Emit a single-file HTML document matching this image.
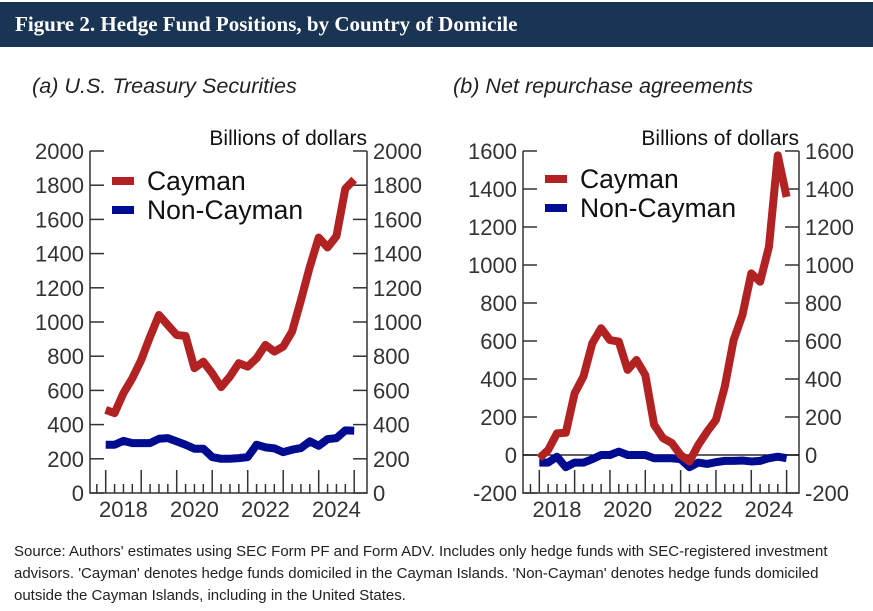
<!DOCTYPE html>
<html><head><meta charset="utf-8"><style>
body{margin:0;background:#fff;width:873px;height:611px;overflow:hidden;font-family:"Liberation Sans",sans-serif}
#hdr{position:absolute;left:0;top:2px;width:873px;height:45px;background:#1a3553;color:#fff;font-family:"Liberation Serif",serif;font-size:21px;font-weight:bold;line-height:45px;padding-left:15px;box-sizing:border-box}
#src{position:absolute;left:14px;top:541px;width:855px;font-size:15px;line-height:22px;color:#222}
svg{position:absolute;left:0;top:0}
</style></head><body>
<div id="hdr">Figure 2. Hedge Fund Positions, by Country of Domicile</div>
<svg id="chart" width="873" height="611"></svg>
<div id="src">Source: Authors' estimates using SEC Form PF and Form ADV. Includes only hedge funds with SEC-registered investment advisors. 'Cayman' denotes hedge funds domiciled in the Cayman Islands. 'Non-Cayman' denotes hedge funds domiciled outside the Cayman Islands, including in the United States.</div>
<script>
const yearLabels=["2018","2020","2022","2024"];
const tsCayman=[486,467,584,671,778,914,1041,982,924,918,730,768,700,619,681,759,739,788,866,827,856,944,1128,1323,1494,1436,1502,1780,1833];
const tsNonCayman=[282,282,305,292,292,292,317,321,302,282,259,259,210,200,200,204,210,282,267,261,239,253,263,302,276,315,321,366,364];
const repoCayman=[-17,26,114,117,325,413,588,667,605,597,448,500,421,159,89,63,0,-34,53,123,185,360,605,737,956,912,1096,1577,1358];
const repoNonCayman=[-40,-40,-9,-64,-40,-40,-22,0,0,18,0,0,0,-17,-17,-17,-22,-64,-40,-47,-38,-31,-31,-29,-34,-31,-17,-9,-17];
const tsTicks=[0,200,400,600,800,1000,1200,1400,1600,1800,2000];
const repoTicks=[-200,0,200,400,600,800,1000,1200,1400,1600];

const NS="http://www.w3.org/2000/svg";
const svg=document.getElementById('chart');
function mk(tag,attrs,parent){const e=document.createElementNS(NS,tag);for(const k in attrs)e.setAttribute(k,attrs[k]);(parent||svg).appendChild(e);return e;}

function panel(cfg){
  const g=mk('g',{});
  
  
  const {L,R,T,B,min,max,x0,yr}=cfg;
  const y=v=>B-(v-min)/(max-min)*(B-T);
  const x=i=>x0+i*yr/4;
  const t=mk('text',{x:cfg.titleX,y:93,'font-size':21.6,'font-style':'italic',fill:'#222'},g);t.textContent=cfg.title;
  
  const u=mk('text',{x:R,y:145,'font-size':21,'text-anchor':'end',fill:'#111'},g);u.textContent="Billions of dollars";
  
  mk('path',{d:`M${L},${T}V${B}H${R}V${T}`,stroke:'#333','stroke-width':1.5,fill:'none'},g);
  cfg.ticks.forEach(v=>{
    const yy=y(v);
    mk('line',{x1:L,x2:L+14,y1:yy,y2:yy,stroke:'#333','stroke-width':1.5},g);
    mk('line',{x1:R-14,x2:R,y1:yy,y2:yy,stroke:'#333','stroke-width':1.5},g);
    const a=mk('text',{x:L-6,y:yy+8,'font-size':22,'text-anchor':'end',fill:'#333'},g);a.textContent=v;
    
    const b=mk('text',{x:R+6,y:yy+8,'font-size':22,fill:'#333'},g);b.textContent=v;
    
  });
  if(min<0) mk('line',{x1:L,x2:R,y1:y(0),y2:y(0),stroke:'#000','stroke-width':1.2},g);
  for(let q=0;q<=28;q++){
    const xx=x(q);
    mk('line',{x1:xx,x2:xx,y1:B,y2:B-(q%4==0?23:9),stroke:'#333','stroke-width':1.5},g);
  }
  mk('line',{x1:x0-yr/4,x2:x0-yr/4,y1:B,y2:B-9,stroke:'#333','stroke-width':1.5},g);
  yearLabels.forEach((lab,k)=>{
    const tx=mk('text',{x:x0+(2*k+0.5)*yr,y:B+24,'font-size':22,'text-anchor':'middle',fill:'#333'},g);tx.textContent=lab;
    
  });
  const line=(arr,col,nm)=>{
    const p=mk('polyline',{points:arr.map((v,i)=>x(i)+','+y(v)).join(' '),fill:'none',stroke:col,'stroke-width':8,'stroke-linejoin':'round'},g);
    
  };
  line(cfg.s2,'#000c8f','non-cayman-line');
  line(cfg.s1,'#b22222','cayman-line');
  const lg=[['Cayman','#b22222',cfg.legY],['Non-Cayman','#000c8f',cfg.legY+29]];
  lg.forEach(([n,c,ly])=>{
    const r=mk('rect',{x:cfg.legX,y:ly-4,width:22,height:8,fill:c},g);
    
    const tx=mk('text',{x:cfg.legX+35,y:ly+9,'font-size':26.5,fill:'#111'},g);tx.textContent=n;
    
  });
}
panel({name:'panel-treasury',title:'(a)  U.S. Treasury Securities',titleX:32,L:90,R:367,T:151,B:493,min:0,max:2000,x0:105.7,yr:35.5,ticks:tsTicks,s1:tsCayman,s2:tsNonCayman,legX:112,legY:181});
panel({name:'panel-repo',title:'(b) Net repurchase agreements',titleX:453,L:523,R:799,T:151,B:493,min:-200,max:1600,x0:539.3,yr:35.33,ticks:repoTicks,s1:repoCayman,s2:repoNonCayman,legX:545,legY:179});
</script>
</body></html>
